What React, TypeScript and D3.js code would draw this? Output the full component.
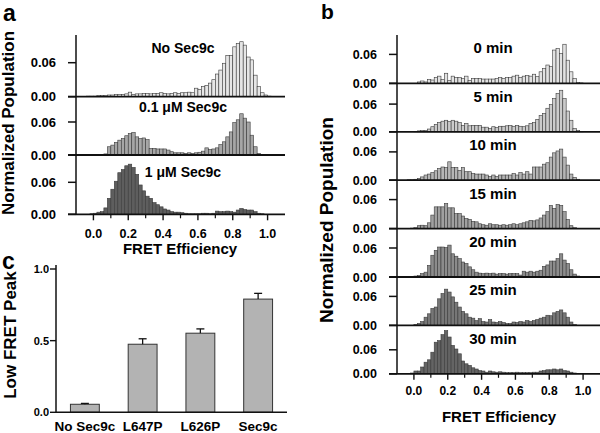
import React from "react";
import * as d3 from "d3";

// ---------- DATA ----------
const binStarts = [
  -0.04, -0.02, 0.0, 0.02, 0.04, 0.06, 0.08, 0.1, 0.12, 0.14,
  0.16, 0.18, 0.2, 0.22, 0.24, 0.26, 0.28, 0.3, 0.32, 0.34,
  0.36, 0.38, 0.4, 0.42, 0.44, 0.46, 0.48, 0.5, 0.52, 0.54,
  0.56, 0.58, 0.6, 0.62, 0.64, 0.66, 0.68, 0.7, 0.72, 0.74,
  0.76, 0.78, 0.8, 0.82, 0.84, 0.86, 0.88, 0.9, 0.92, 0.94,
  0.96, 0.98, 1.0, 1.02,
];
const binWidth = 0.02;

// Panel a
const noSec9c = [
  0.001, 0.001, 0.001, 0.002, 0.002, 0.002, 0.003, 0.003, 0.004, 0.004,
  0.004, 0.005, 0.008, 0.004, 0.005, 0.005, 0.006, 0.006, 0.005, 0.006,
  0.006, 0.007, 0.006, 0.005, 0.006, 0.007, 0.006, 0.007, 0.007, 0.008,
  0.007, 0.015, 0.013, 0.018, 0.02, 0.024, 0.03, 0.04, 0.047, 0.059,
  0.073, 0.073, 0.088, 0.094, 0.097, 0.091, 0.07, 0.065, 0.038, 0.018,
  0.007, 0.003, 0.001, 0,
];
const sec9cLow = [
  0, 0, 0, 0, 0, 0.002, 0.015, 0.018, 0.023, 0.027,
  0.03, 0.035, 0.039, 0.041, 0.033, 0.03, 0.031, 0.028, 0.012, 0.012,
  0.011, 0.011, 0.011, 0.009, 0.006, 0.004, 0.004, 0.004, 0.003, 0.004,
  0.003, 0.004, 0.005, 0.007, 0.013, 0.01, 0.011, 0.013, 0.019, 0.024,
  0.033, 0.042, 0.059, 0.064, 0.075, 0.067, 0.06, 0.036, 0.015, 0.003,
  0.001, 0, 0, 0,
];
const sec9cHigh = [
  0, 0.001, 0.002, 0.004, 0.005, 0.012, 0.03, 0.047, 0.062, 0.078,
  0.084, 0.091, 0.094, 0.088, 0.075, 0.055, 0.044, 0.034, 0.03, 0.022,
  0.018, 0.014, 0.01, 0.008, 0.005, 0.004, 0.004, 0.003, 0.002, 0.001,
  0.001, 0.001, 0.001, 0.002, 0.002, 0.001, 0.002, 0.006, 0.005, 0.005,
  0.006, 0.005, 0.004, 0.008, 0.011, 0.009, 0.008, 0.008, 0.005, 0.002,
  0.001, 0, 0, 0,
];
const panelASeries = [noSec9c, sec9cLow, sec9cHigh];
const panelALabels = ["No Sec9c", "0.1 \u03bcM Sec9c", "1 \u03bcM Sec9c"];

// Panel b
const min0 = [
  0, 0, 0, 0.003, 0.005, 0.003, 0.008, 0.007, 0.012, 0.015,
  0.008, 0.021, 0.006, 0.015, 0.012, 0.012, 0.01, 0.015, 0.006, 0.01,
  0.01, 0.01, 0.009, 0.009, 0.009, 0.009, 0.01, 0.012, 0.01, 0.012,
  0.012, 0.015, 0.017, 0.012, 0.015, 0.016, 0.015, 0.019, 0.014, 0.024,
  0.031, 0.038, 0.035, 0.069, 0.072, 0.062, 0.081, 0.048, 0.024, 0.01,
  0.002, 0.001, 0, 0,
];
const min5 = [
  0, 0, 0.001, 0.002, 0.003, 0.003, 0.006, 0.011, 0.016, 0.02,
  0.023, 0.025, 0.022, 0.025, 0.023, 0.02, 0.014, 0.018, 0.013, 0.014,
  0.014, 0.014, 0.01, 0.01, 0.007, 0.011, 0.009, 0.012, 0.012, 0.013,
  0.014, 0.012, 0.014, 0.012, 0.011, 0.013, 0.018, 0.02, 0.027, 0.035,
  0.04, 0.051, 0.059, 0.072, 0.083, 0.09, 0.072, 0.045, 0.025, 0.007,
  0.003, 0.001, 0, 0,
];
const min10 = [
  0.001, 0.001, 0.002, 0.004, 0.007, 0.011, 0.013, 0.016, 0.02, 0.025,
  0.028, 0.027, 0.039, 0.027, 0.027, 0.021, 0.027, 0.018, 0.018, 0.014,
  0.013, 0.013, 0.013, 0.011, 0.008, 0.011, 0.008, 0.011, 0.011, 0.011,
  0.011, 0.014, 0.011, 0.016, 0.013, 0.018, 0.013, 0.028, 0.028, 0.028,
  0.034, 0.037, 0.049, 0.058, 0.062, 0.066, 0.049, 0.032, 0.013, 0.006,
  0.002, 0, 0, 0,
];
const min15 = [
  0, 0.001, 0.002, 0.006, 0.007, 0.006, 0.012, 0.028, 0.045, 0.045,
  0.045, 0.052, 0.043, 0.043, 0.031, 0.031, 0.026, 0.021, 0.019, 0.015,
  0.014, 0.01, 0.008, 0.007, 0.01, 0.008, 0.008, 0.007, 0.008, 0.007,
  0.008, 0.01, 0.008, 0.01, 0.012, 0.014, 0.017, 0.016, 0.018, 0.022,
  0.028, 0.035, 0.048, 0.042, 0.05, 0.048, 0.035, 0.019, 0.006, 0.002,
  0, 0, 0, 0,
];
const min20 = [
  0, 0, 0.002, 0.003, 0.007, 0.01, 0.024, 0.045, 0.055, 0.062,
  0.062, 0.061, 0.066, 0.048, 0.043, 0.038, 0.031, 0.028, 0.021, 0.015,
  0.01, 0.008, 0.007, 0.008, 0.007, 0.008, 0.006, 0.007, 0.007, 0.006,
  0.007, 0.007, 0.007, 0.004, 0.012, 0.01, 0.012, 0.01, 0.012, 0.014,
  0.022, 0.025, 0.033, 0.033, 0.038, 0.048, 0.035, 0.028, 0.015, 0.006,
  0.002, 0, 0, 0,
];
const min25 = [
  0, 0, 0.002, 0.004, 0.008, 0.017, 0.024, 0.035, 0.038, 0.055,
  0.066, 0.075, 0.069, 0.059, 0.048, 0.038, 0.029, 0.024, 0.017, 0.015,
  0.01, 0.014, 0.008, 0.007, 0.012, 0.007, 0.006, 0.008, 0.006, 0.004,
  0.004, 0.007, 0.006, 0.008, 0.007, 0.01, 0.008, 0.01, 0.012, 0.015,
  0.017, 0.021, 0.02, 0.026, 0.029, 0.032, 0.026, 0.017, 0.007, 0.002,
  0, 0, 0, 0,
];
const min30 = [
  0, 0.002, 0.007, 0.007, 0.017, 0.029, 0.035, 0.054, 0.079, 0.083,
  0.098, 0.108, 0.092, 0.071, 0.062, 0.05, 0.032, 0.025, 0.021, 0.015,
  0.012, 0.008, 0.007, 0.004, 0.007, 0.005, 0.004, 0.005, 0.004, 0.003,
  0.003, 0.003, 0.004, 0.003, 0.003, 0.003, 0.003, 0.004, 0.004, 0.007,
  0.008, 0.01, 0.01, 0.012, 0.01, 0.012, 0.008, 0.007, 0.004, 0.002,
  0, 0, 0, 0,
];
const panelBSeries = [min0, min5, min10, min15, min20, min25, min30];
const panelBLabels = ["0 min", "5 min", "10 min", "15 min", "20 min", "25 min", "30 min"];

// Shared ticks
const xMajorTicks = [0, 0.2, 0.4, 0.6, 0.8, 1.0];
const xMinorTicks = [0.1, 0.3, 0.5, 0.7, 0.9];
const yHistTicks = [0, 0.06];

// Panel c
const cCategories = ["No Sec9c", "L647P", "L626P", "Sec9c"];
const cValues = [0.056, 0.475, 0.552, 0.79];
const cErrors = [0.006, 0.038, 0.03, 0.04];
const cTicks = [0, 0.5, 1.0];

// ---------- STYLE / LAYOUT ----------
const FONT = "'Liberation Sans', Arial, Helvetica, sans-serif";
const AXIS = "#111";
const aFills = ["#e6e6e6", "#a6a6a6", "#5e5e5e"];
const bFills = ["#e2e2e2", "#cbcbcb", "#b5b5b5", "#a0a0a0", "#8c8c8c", "#777777", "#646464"];
const aRowTops = [35, 96.7, 155];
const aRowBottoms = [96.7, 155, 214.3];
const aTickPx = [34, 33, 32];
const bTop = 35;
const bRowH = 48.4;
const bTickPx = [29, 27.7, 28.3, 29, 29, 29, 24];

function Hist({ data, x, base, px, fill }: any) {
  const y = d3.scaleLinear().domain([0, 0.06]).range([base, base - px]);
  return (
    <g>
      {data.map((v: number, i: number) =>
        v > 0 ? (
          <rect
            key={i}
            x={x(binStarts[i])}
            y={y(v)}
            width={x(binStarts[i] + binWidth) - x(binStarts[i])}
            height={base - y(v)}
            fill={fill}
            stroke="#3a3a3a"
            strokeWidth={0.6}
          />
        ) : null
      )}
    </g>
  );
}

function YTicks({ base, px, axisX, labelX, size, tickLen }: any) {
  const y = d3.scaleLinear().domain([0, 0.06]).range([base, base - px]);
  return (
    <g>
      {yHistTicks.map((t) => (
        <g key={t}>
          <line x1={axisX - tickLen} x2={axisX} y1={y(t)} y2={y(t)} stroke={AXIS} strokeWidth={1.5} />
          <text x={labelX} y={y(t)} dy="0.36em" textAnchor="end" fontSize={size} fontWeight="bold" fontFamily={FONT}>
            {d3.format(".2f")(t)}
          </text>
        </g>
      ))}
    </g>
  );
}

function XAxisTicks({ x, y0, labelY, size }: any) {
  return (
    <g>
      {xMajorTicks.map((t) => (
        <g key={"M" + t}>
          <line x1={x(t)} x2={x(t)} y1={y0} y2={y0 + 6} stroke={AXIS} strokeWidth={1.4} />
          <text x={x(t)} y={labelY} dy="0.36em" textAnchor="middle" fontSize={size} fontWeight="bold" fontFamily={FONT}>
            {d3.format(".1f")(t)}
          </text>
        </g>
      ))}
      {xMinorTicks.map((t) => (
        <line key={"m" + t} x1={x(t)} x2={x(t)} y1={y0} y2={y0 + 4} stroke={AXIS} strokeWidth={1.2} />
      ))}
    </g>
  );
}

export default function App() {
  // Panel a
  const xa = d3.scaleLinear().domain([-0.1, 1.1]).range([76, 285]);
  // Panel b
  const xb = d3.scaleLinear().domain([-0.1, 1.1]).range([397, 600]);
  const bBottom = (k: number) => bTop + bRowH * (k + 1);
  // Panel c
  const xc = d3.scaleBand().domain(cCategories).range([56, 287]).paddingInner(0.5).paddingOuter(0.25);
  const yc = d3.scaleLinear().domain([0, 1]).range([412.3, 269]);

  return (
    <svg
      width={600}
      height={433}
      style={{ position: "absolute", left: 0, top: 0, background: "#fff" }}
      fontFamily={FONT}
    >
      <rect x={0} y={0} width={600} height={433} fill="#fff" />

      {/* ---------- Panel a ---------- */}
      <text x={3} y={21} fontSize={23} fontWeight="bold">a</text>
      {panelASeries.map((s, k) => (
        <g key={k}>
          <Hist data={s} x={xa} base={aRowBottoms[k]} px={aTickPx[k]} fill={aFills[k]} />
          <text x={183} y={[48, 107, 172][k]} dy="0.36em" textAnchor="middle" fontSize={14} fontWeight="bold">
            {panelALabels[k]}
          </text>
          <YTicks base={aRowBottoms[k]} px={aTickPx[k]} axisX={76} labelX={56} size={13} tickLen={8} />
          <line x1={68} x2={285} y1={aRowBottoms[k]} y2={aRowBottoms[k]} stroke={AXIS} strokeWidth={1.8} />
        </g>
      ))}
      <line x1={76} x2={76} y1={aRowTops[0]} y2={aRowBottoms[2]} stroke={AXIS} strokeWidth={1.5} />
      <XAxisTicks x={xa} y0={aRowBottoms[2]} labelY={233} size={12.5} />
      <text x={180} y={249} dy="0.36em" textAnchor="middle" fontSize={15} fontWeight="bold">FRET Efficiency</text>
      <text transform="translate(14,123) rotate(-90)" textAnchor="middle" fontSize={17} fontWeight="bold">
        Normalized Population
      </text>

      {/* ---------- Panel b ---------- */}
      <text x={321} y={18.5} fontSize={21} fontWeight="bold">b</text>
      {panelBSeries.map((s, k) => (
        <g key={k}>
          <Hist data={s} x={xb} base={bBottom(k)} px={bTickPx[k]} fill={bFills[k]} />
          <text x={493} y={bTop + bRowH * k + 13} dy="0.36em" textAnchor="middle" fontSize={15} fontWeight="bold">
            {panelBLabels[k]}
          </text>
          <YTicks base={bBottom(k)} px={bTickPx[k]} axisX={397} labelX={377} size={12.5} tickLen={8} />
          <line x1={389} x2={600} y1={bBottom(k)} y2={bBottom(k)} stroke={AXIS} strokeWidth={1.8} />
        </g>
      ))}
      <line x1={397} x2={397} y1={bTop} y2={bBottom(6)} stroke={AXIS} strokeWidth={1.5} />
      <XAxisTicks x={xb} y0={bBottom(6)} labelY={391} size={12} />
      <text x={499} y={417} dy="0.36em" textAnchor="middle" fontSize={15} fontWeight="bold">FRET Efficiency</text>
      <text transform="translate(333,220) rotate(-90)" textAnchor="middle" fontSize={19} fontWeight="bold">
        Normalized Population
      </text>

      {/* ---------- Panel c ---------- */}
      <text x={2} y={269} fontSize={23} fontWeight="bold">c</text>
      {cCategories.map((c, i) => {
        const bx = xc(c) as number;
        const cx = bx + xc.bandwidth() / 2;
        return (
          <g key={c}>
            <rect
              x={bx}
              y={yc(cValues[i])}
              width={xc.bandwidth()}
              height={yc(0) - yc(cValues[i])}
              fill="#b3b3b3"
              stroke="#333"
              strokeWidth={1}
            />
            <line x1={cx} x2={cx} y1={yc(cValues[i])} y2={yc(cValues[i] + cErrors[i])} stroke="#111" strokeWidth={1.3} />
            <line x1={cx - 4} x2={cx + 4} y1={yc(cValues[i] + cErrors[i])} y2={yc(cValues[i] + cErrors[i])} stroke="#111" strokeWidth={1.3} />
            <text x={cx} y={426} dy="0.36em" textAnchor="middle" fontSize={13.5} fontWeight="bold">{c}</text>
          </g>
        );
      })}
      <line x1={56} x2={56} y1={265} y2={yc(0)} stroke={AXIS} strokeWidth={1.5} />
      <line x1={56} x2={287} y1={yc(0)} y2={yc(0)} stroke={AXIS} strokeWidth={1.5} />
      {cTicks.map((t) => (
        <g key={t}>
          <line x1={50} x2={56} y1={yc(t)} y2={yc(t)} stroke={AXIS} strokeWidth={1.4} />
          <text x={49} y={yc(t)} dy="0.36em" textAnchor="end" fontSize={11} fontWeight="bold">
            {d3.format(".1f")(t)}
          </text>
        </g>
      ))}
      <text transform="translate(16,335) rotate(-90)" textAnchor="middle" fontSize={17} fontWeight="bold">
        Low FRET Peak
      </text>
    </svg>
  );
}
